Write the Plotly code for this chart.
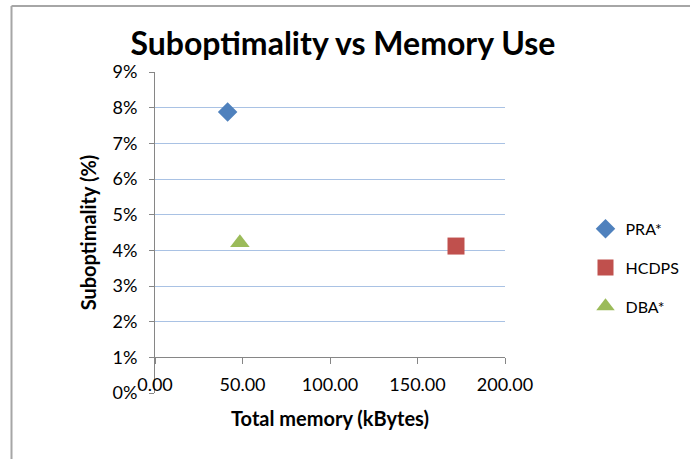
import plotly.graph_objects as go

series_names = ["PRA*", "HCDPS", "DBA*"]
memory_kb = [41.5, 172.0, 48.5]
subopt = [0.0788, 0.0412, 0.0421]
colors = ["#4F81BD", "#C0504D", "#9BBB59"]
symbols = ["diamond", "square", "triangle-up"]
sizes = [15, 17, 17]
x_ticks = [0, 50, 100, 150, 200]
x_tick_labels = ["0.00", "50.00", "100.00", "150.00", "200.00"]
y_ticks = [0, 0.01, 0.02, 0.03, 0.04, 0.05, 0.06, 0.07, 0.08, 0.09]
y_tick_labels = ["0%", "1%", "2%", "3%", "4%", "5%", "6%", "7%", "8%", "9%"]

FONT = "Lato"
fig = go.Figure()
for i, name in enumerate(series_names):
    fig.add_trace(go.Scatter(
        x=[memory_kb[i]], y=[subopt[i]], mode="markers", name=name,
        legendgroup=name,
        marker=dict(symbol=symbols[i], size=sizes[i], color=colors[i]),
    ))

W, H = 690, 459
L, R, T, B = 155, 185, 72, 66
fig.update_layout(
    width=W, height=H,
    margin=dict(l=L, r=R, t=T, b=B, autoexpand=False),
    paper_bgcolor="white", plot_bgcolor="white",
    font=dict(family=FONT, color="#000000"),
    title=dict(text="<b>Suboptimality vs Memory Use</b>", x=0.497, xanchor="center",
               y=1 - 44 / H, yanchor="middle",
               font=dict(family=FONT, size=32, color="#000000")),
    showlegend=True,
    legend=dict(x=1.23, xanchor="left", y=0.39, yanchor="middle",
                font=dict(family=FONT, size=16, color="#000000"),
                tracegroupgap=15, traceorder="grouped",
                bgcolor="rgba(0,0,0,0)"),
    xaxis=dict(range=[0, 200], tickvals=x_ticks, ticktext=x_tick_labels,
               anchor="free", position=1 / 9,
               showline=True, linecolor="#868686", linewidth=1,
               ticks="outside", ticklen=6, tickcolor="#868686",
               ticklabelstandoff=5, automargin=False,
               showgrid=False, zeroline=False,
               tickfont=dict(family=FONT, size=18, color="#000000"),
               title=dict(text="<b>Total memory (kBytes)</b>", standoff=18,
                          font=dict(family=FONT, size=20, color="#000000"))),
    yaxis=dict(range=[0, 0.09], tickvals=y_ticks, ticktext=y_tick_labels,
               showline=True, linecolor="#868686", linewidth=1,
               ticks="outside", ticklen=5, tickcolor="#868686",
               ticklabelstandoff=8, automargin=False,
               showgrid=True, gridcolor="#A9C2E4", gridwidth=1,
               zeroline=False,
               tickfont=dict(family=FONT, size=18, color="#000000"),
               title=dict(text="<b>Suboptimality (%)</b>", standoff=10,
                          font=dict(family=FONT, size=20, color="#000000"))),
)

# chart-area border (left and top edges visible)
fig.add_shape(type="line", xref="paper", yref="paper",
              x0=(11.5 - L) / (W - L - R), x1=(11.5 - L) / (W - L - R),
              y0=(H - B - 6) / (H - T - B), y1=(H - B - 470) / (H - T - B),
              line=dict(color="#A6A6A6", width=2))
fig.add_shape(type="line", xref="paper", yref="paper",
              x0=(11.5 - L) / (W - L - R), x1=(700 - L) / (W - L - R),
              y0=(H - B - 6) / (H - T - B), y1=(H - B - 6) / (H - T - B),
              line=dict(color="#A6A6A6", width=2))

fig.write_html("out.html", config={"displayModeBar": False},
               post_script="document.body.style.margin='0';")
